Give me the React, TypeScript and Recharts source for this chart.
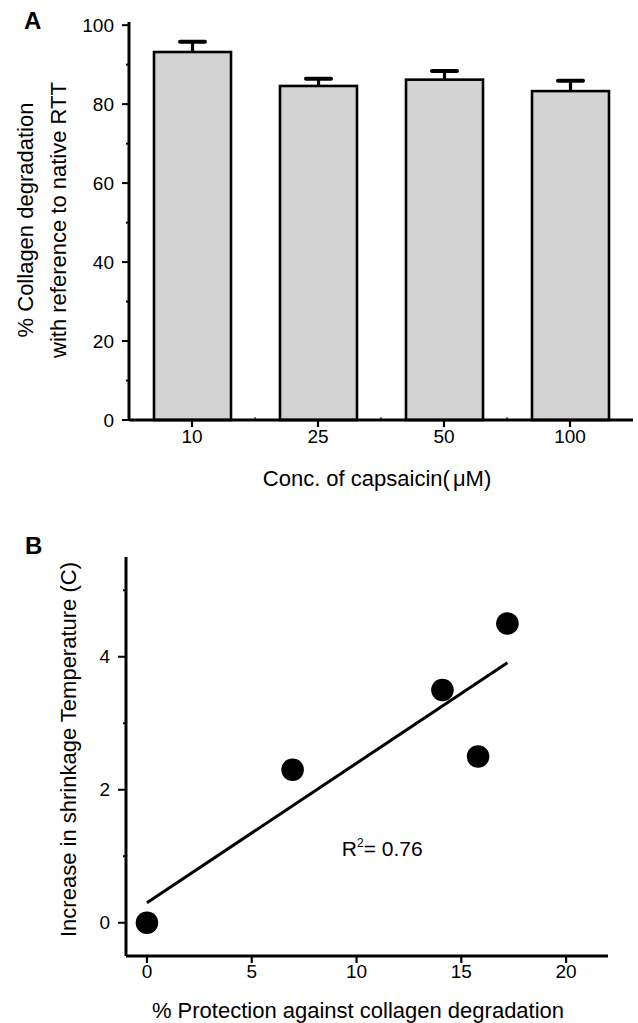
import React from 'react';
import {
  BarChart,
  Bar,
  XAxis,
  YAxis,
  ComposedChart,
  Scatter,
  ReferenceLine,
  ReferenceDot,
  Label,
} from 'recharts';

// ---------- Panel A data ----------
const concentrations = ['10', '25', '50', '100'];
const degradation = [93.2, 84.6, 86.2, 83.3];
const degradationErr = [2.6, 1.8, 2.2, 2.6];
const yTicksA = [0, 10, 20, 30, 40, 50, 60, 70, 80, 90, 100];
const yMajorA = [0, 20, 40, 60, 80, 100];

// ---------- Panel B data ----------
const protection = [0, 6.95, 14.1, 15.8, 17.2];
const shrinkIncrease = [0, 2.3, 3.5, 2.5, 4.5];
const fitLine = [
  { x: 0, y: 0.3 },
  { x: 17.2, y: 3.91 },
];
const xTicksB = [0, 5, 10, 15, 20];
const yTicksB = [0, 1, 2, 3, 4, 5];
const yMajorB = [0, 2, 4];
const r2Text = '0.76';
const r2Anchor = { x: 9.3, y: 1.0 };

const barData = concentrations.map((c, i) => ({
  conc: c,
  value: degradation[i],
  err: degradationErr[i],
}));
const scatterData = protection.map((x, i) => ({ x, y: shrinkIncrease[i] }));

// ---------- layout ----------
const W = 638;
const A_H = 500;
const A_MARGIN = { top: 22, right: 5, bottom: 0, left: 0 };
const A_YW = 129;
const A_XH = 80;
const A_PLOT_W = W - A_MARGIN.left - A_MARGIN.right - A_YW;
const BAND = A_PLOT_W / concentrations.length;

const B_TOP = 500;
const B_H = 523;
const B_MARGIN = { top: 57, right: 30, bottom: 0, left: 0 };
const B_YW = 126;
const B_XH = 67;

const FILL = '#d2d3d2';
const TICK_FS = 19;
const TITLE_FS = 22;

const BarWithError = (props: any) => {
  const { x, y, width, height, payload } = props;
  if (!payload || height <= 0) return null;
  const pxPerUnit = height / payload.value;
  const cx = x + width / 2;
  const top = y - payload.err * pxPerUnit;
  return (
    <g>
      <rect x={x} y={y} width={width} height={height} fill={FILL} stroke="#000" strokeWidth={2.6} />
      <line x1={cx} x2={cx} y1={y} y2={top} stroke="#000" strokeWidth={3.2} />
      <line
        x1={cx - 12.5}
        x2={cx + 12.5}
        y1={top}
        y2={top}
        stroke="#000"
        strokeWidth={4}
        strokeLinecap="round"
      />
    </g>
  );
};

const makeYTick = (majors: number[], majorLen: number, gap: number) => (props: any) => {
  const { x, y, payload } = props;
  const major = majors.includes(payload.value);
  return (
    <g>
      <line x1={x - (major ? majorLen : 3)} x2={x} y1={y} y2={y} stroke="#000" strokeWidth={2} />
      {major && (
        <text x={x - gap} y={y} dy="0.35em" textAnchor="end" fontSize={TICK_FS} fill="#000">
          {payload.value}
        </text>
      )}
    </g>
  );
};

const XTickA = (props: any) => {
  const { x, y, payload, index } = props;
  return (
    <g>
      <line x1={x} x2={x} y1={y} y2={y + 7} stroke="#000" strokeWidth={2.2} />
      {index > 0 && (
        <line x1={x - BAND / 2} x2={x - BAND / 2} y1={y} y2={y - 3} stroke="#000" strokeWidth={1} />
      )}
      <text x={x} y={y + 10} dy="0.71em" textAnchor="middle" fontSize={TICK_FS} fill="#000">
        {payload.value}
      </text>
    </g>
  );
};

const XTickB = (props: any) => {
  const { x, y, payload } = props;
  return (
    <g>
      <line x1={x} x2={x} y1={y} y2={y + 7} stroke="#000" strokeWidth={2.2} />
      <text x={x} y={y + 9} dy="0.71em" textAnchor="middle" fontSize={TICK_FS} fill="#000">
        {payload.value}
      </text>
    </g>
  );
};

const axisLineStyle = { stroke: '#000', strokeWidth: 3 };

export default function App() {
  return (
    <div
      style={{
        position: 'absolute',
        left: 0,
        top: 0,
        width: W,
        height: 1023,
        background: '#fff',
        fontFamily: '"Liberation Sans", Arial, sans-serif',
      }}
    >
      <div style={{ position: 'absolute', left: 0, top: 0 }}>
        <BarChart width={W} height={A_H} data={barData} margin={A_MARGIN} barSize={77}>
          <XAxis
            dataKey="conc"
            height={A_XH}
            axisLine={axisLineStyle}
            tickLine={false}
            tickSize={0}
            tickMargin={0}
            interval={0}
            tick={<XTickA />}
          >
            <Label
              content={(p: any) => {
                const vb = p.viewBox;
                return (
                  <text
                    x={vb.x + vb.width / 2 - 4}
                    y={vb.y + 66}
                    textAnchor="middle"
                    fontSize={TITLE_FS}
                    fill="#000"
                  >
                    Conc. of capsaicin(<tspan dx={3}>μM)</tspan>
                  </text>
                );
              }}
            />
          </XAxis>
          <YAxis
            width={A_YW}
            domain={[0, 100.8]}
            ticks={yTicksA}
            interval={0}
            axisLine={axisLineStyle}
            tickLine={false}
            tickSize={0}
            tickMargin={0}
            tick={makeYTick(yMajorA, 7, 15)}
          >
            <Label
              content={(p: any) => {
                const vb = p.viewBox;
                const cy = vb.y + vb.height / 2 - 1;
                return (
                  <g>
                    <text
                      transform={`translate(33, ${cy}) rotate(-90)`}
                      textAnchor="middle"
                      fontSize={TITLE_FS}
                      fill="#000"
                    >
                      % Collagen degradation
                    </text>
                    <text
                      transform={`translate(66, ${cy}) rotate(-90)`}
                      textAnchor="middle"
                      fontSize={TITLE_FS}
                      fill="#000"
                    >
                      with reference to native RTT
                    </text>
                  </g>
                );
              }}
            />
          </YAxis>
          <Bar dataKey="value" isAnimationActive={false} shape={<BarWithError />} />
        </BarChart>
      </div>

      <div style={{ position: 'absolute', left: 0, top: B_TOP }}>
        <ComposedChart width={W} height={B_H} margin={B_MARGIN} data={scatterData}>
          <XAxis
            type="number"
            dataKey="x"
            domain={[-1, 22]}
            ticks={xTicksB}
            interval={0}
            allowDataOverflow
            height={B_XH}
            axisLine={axisLineStyle}
            tickLine={false}
            tickSize={0}
            tickMargin={0}
            tick={<XTickB />}
          >
            <Label
              content={(p: any) => {
                const vb = p.viewBox;
                return (
                  <text
                    x={vb.x + vb.width / 2 - 9}
                    y={vb.y + 62}
                    textAnchor="middle"
                    fontSize={TITLE_FS}
                    fill="#000"
                  >
                    % Protection against collagen degradation
                  </text>
                );
              }}
            />
          </XAxis>
          <YAxis
            type="number"
            dataKey="y"
            width={B_YW}
            domain={[-0.5, 5.5]}
            ticks={yTicksB}
            interval={0}
            allowDataOverflow
            axisLine={axisLineStyle}
            tickLine={false}
            tickSize={0}
            tickMargin={0}
            tick={makeYTick(yMajorB, 8, 16)}
          >
            <Label
              content={(p: any) => {
                const vb = p.viewBox;
                const cy = vb.y + vb.height / 2 - 7;
                return (
                  <text
                    transform={`translate(75.5, ${cy}) rotate(-90)`}
                    textAnchor="middle"
                    fontSize={TITLE_FS}
                    fill="#000"
                  >
                    Increase in shrinkage Temperature (C)
                  </text>
                );
              }}
            />
          </YAxis>
          <ReferenceLine
            segment={fitLine}
            stroke="#000"
            strokeWidth={3}
            ifOverflow="visible"
          />
          <ReferenceDot
            x={r2Anchor.x}
            y={r2Anchor.y}
            r={0}
            ifOverflow="visible"
            shape={(p: any) => (
              <text x={p.cx} y={p.cy} fontSize={21} fill="#000" textAnchor="start">
                R
                <tspan fontSize={12} dy={-9}>
                  2
                </tspan>
                <tspan dy={9}>= {r2Text}</tspan>
              </text>
            )}
          />
          <Scatter
            dataKey="y"
            isAnimationActive={false}
            shape={(p: any) => <circle cx={p.cx} cy={p.cy} r={11.3} fill="#000" />}
          />
        </ComposedChart>
      </div>

      <svg
        width={W}
        height={1023}
        style={{ position: 'absolute', left: 0, top: 0, pointerEvents: 'none' }}
      >
        <text x={24} y={29} fontSize={24} fontWeight="bold" fill="#000">
          A
        </text>
        <text x={25} y={554} fontSize={24} fontWeight="bold" fill="#000">
          B
        </text>
      </svg>
    </div>
  );
}
